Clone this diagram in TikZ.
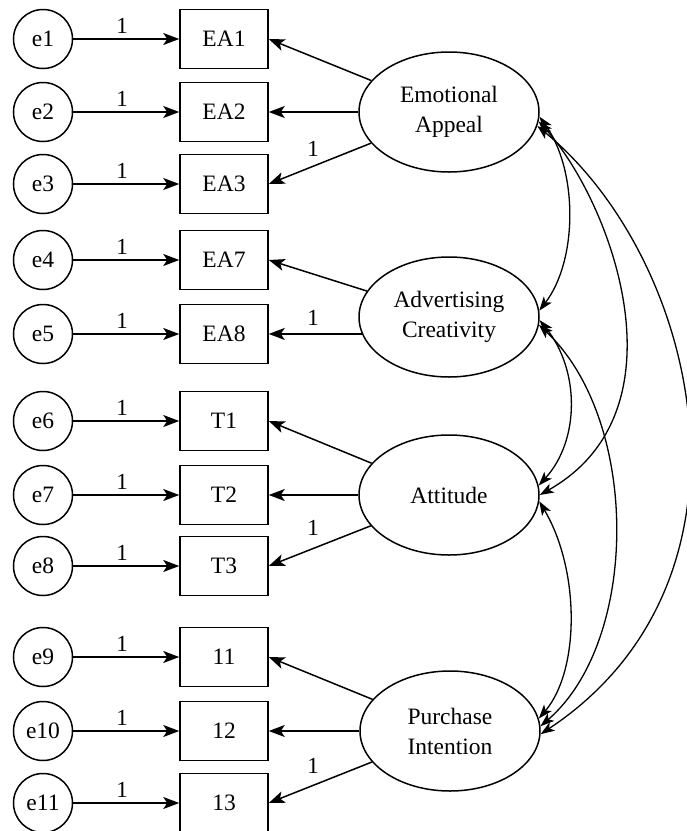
\documentclass[tikz,border=0pt]{standalone}
\usepackage{fontspec}
\setmainfont{Liberation Serif}
\usetikzlibrary{arrows.meta,shapes.geometric}
\begin{document}
\begin{tikzpicture}[x=1pt,y=-1pt, line width=1.5pt, font=\fontsize{23.5}{30}\selectfont,
  err/.style={draw, circle, minimum size=59pt, inner sep=0pt},
  obs/.style={draw, rectangle, minimum width=88pt, minimum height=59pt, inner sep=0pt},
  lat/.style={draw, ellipse, minimum width=180pt, minimum height=120pt, inner sep=0pt, align=center},
  arr/.style={-{Stealth[length=16pt,width=12pt,inset=4pt]}},
  cov/.style={{Stealth[length=14pt,width=10pt,inset=3.5pt]}-{Stealth[length=14pt,width=10pt,inset=3.5pt]}, line width=1.3pt},
  lbl/.style={inner sep=0pt, font=\fontsize{23}{23}\selectfont}]
\useasboundingbox (0,0) rectangle (687,831);
\foreach \n/\y/\t in {1/39/EA1, 2/112/EA2, 3/184/EA3, 4/260/EA7, 5/334/EA8, 6/421/T1, 7/495/T2, 8/566/T3, 9/657/11, 10/731/12, 11/803/13}{
  \node[err] (e\n) at (43,\y) {e\n};
  \node[obs] (o\n) at (224,\y) {\t};
  \draw[arr] (e\n) -- node[lbl, pos=0.46, above=5pt] {1} (o\n);
}
\node[lat] (ea) at (449,112) {Emotional\\Appeal};
\node[lat] (ac) at (449,317) {Advertising\\Creativity};
\node[lat] (att) at (449,495) {Attitude};
\node[lat] (pi) at (450,731) {Purchase\\Intention};
% loadings
\draw[arr] (ea) -- (o1.east);
\draw[arr] (ea) -- (o2.east);
\draw[arr] (ea) -- (o3.east);
\draw[arr] (ac) -- (o4.east);
\draw[arr] (ac.191.5) -- (ac.191.5 -| o5.east);
\draw[arr] (att) -- (o6.east);
\draw[arr] (att) -- (o7.east);
\draw[arr] (att) -- (o8.east);
\draw[arr] (pi) -- (o9.east);
\draw[arr] (pi) -- (o10.east);
\draw[arr] (pi) -- (o11.east);
\node[lbl] (l1) at (313,149) {1};
\node[lbl] (l2) at (313,318) {1};
\node[lbl] (l3) at (313,528) {1};
\node[lbl] (l4) at (313,766) {1};
% covariances
\draw[cov] (ea.-3) .. controls (578,170) and (578,260) .. (ac.4);
\draw[cov] (ea.-6) .. controls (610,200) and (690,410) .. (att.0);
\draw[cov] (ea.-9) .. controls (700,260) and (773,580) .. (pi.-2);
\draw[cov] (ac.-2) .. controls (580,370) and (580,440) .. (att.6);
\draw[cov] (ac.-5) .. controls (640,420) and (640,640) .. (pi.3);
\draw[cov] (att.-4) .. controls (580,570) and (580,670) .. (pi.8);
\end{tikzpicture}
\end{document}
